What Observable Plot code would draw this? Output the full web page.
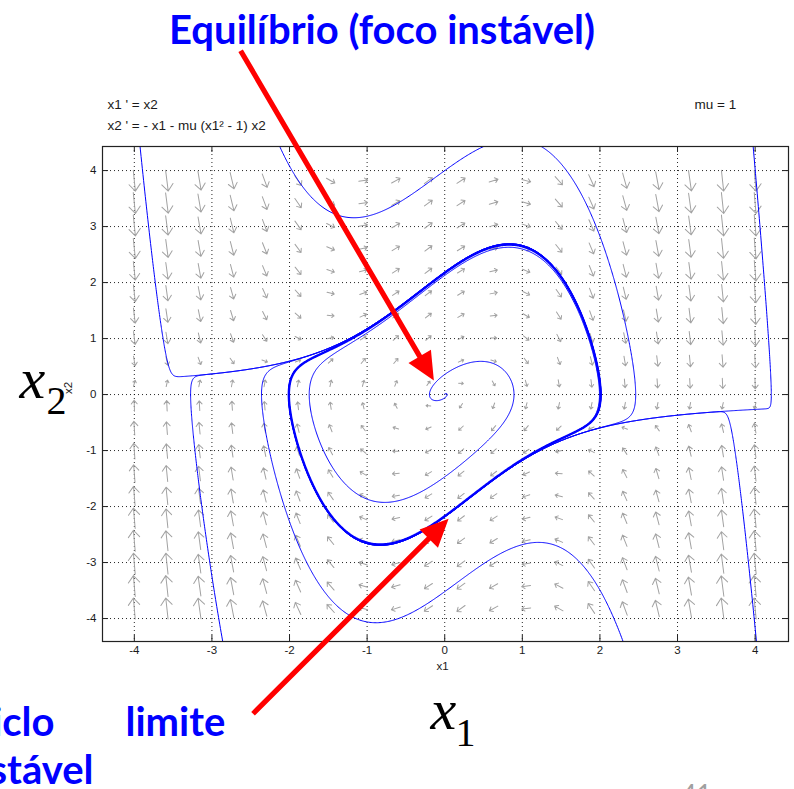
<!DOCTYPE html>
<html>
<head>
<meta charset="utf-8">
<script src="https://cdn.jsdelivr.net/npm/d3@7"></script>
<script src="https://cdn.jsdelivr.net/npm/@observablehq/plot@0.6"></script>
<style>
  html, body { margin: 0; padding: 0; background: #fff; }
  #chart svg { display: block; }
</style>
</head>
<body>
<div id="chart"></div>
<script>
// Van der Pol oscillator:  x1' = x2,  x2' = -x1 - mu (x1^2 - 1) x2
const MU = 1;

// axes
const xDomain = [-4.41, 4.43];
const yDomain = [-4.41, 4.43];
const xTicks = [-4, -3, -2, -1, 0, 1, 2, 3, 4];
const yTicks = [-4, -3, -2, -1, 0, 1, 2, 3, 4];

// lattice where the direction field is sampled
const fieldCols = [-4.00, -3.58, -3.16, -2.74, -2.32, -1.89, -1.47, -1.05, -0.63, -0.21,
                    0.21, 0.63, 1.05, 1.47, 1.89, 2.32, 2.74, 3.16, 3.58, 4.00];
const fieldRows = [-3.82, -3.42, -3.02, -2.61, -2.21, -1.81, -1.41, -1.01, -0.60, -0.20,
                    0.20, 0.60, 1.01, 1.41, 1.81, 2.21, 2.61, 3.02, 3.42, 3.82];

// initial states of the traced orbits (each is run forward and backward in time)
const orbitNames = ["upper left", "lower left", "lower", "upper", "upper right", "lower right", "spiral"];
const orbitX1 = [-3.73, -3.13, 1.205, -1.12, 4.12, 3.81, 0.89];
const orbitX2 = [ 2.00, -2.00, -2.64,  3.16, 2.00, -1.73, -0.07];
const cycleStart = [2.0086, 0];
const cyclePeriod = 6.6633;

// texts
const headerLines = ["x1 ' = x2", "x2 ' = - x1 - mu (x1² - 1) x2"];
const paramText = "mu = 1";
const titleText = "Equilíbrio (foco instável)";
const cycleWords = ["Ciclo", "limite", "estável"];

// annotation arrows: tail -> tip, in (x1, x2) units
const arrowNames = ["focus", "cycle"];
const arrowTail = [[-2.63, 6.14], [-2.47, -5.70]];
const arrowTip  = [[-0.14, 0.25], [ 0.05, -2.22]];

// ---------------- layout ----------------
const W = 794, H = 789;
const ML = 102, MR = 6, MT = 146, MB = 148;
const kx = (W - ML - MR) / (xDomain[1] - xDomain[0]);   // px per unit
const ky = (H - MT - MB) / (yDomain[1] - yDomain[0]);
const frameW = W - ML - MR, frameH = H - MT - MB;

// ---------------- dynamics ----------------
function deriv(a, b) { return [b, -a - MU * (a * a - 1) * b]; }
function rk4([a, b], h) {
  const [k1a, k1b] = deriv(a, b);
  const [k2a, k2b] = deriv(a + h * k1a / 2, b + h * k1b / 2);
  const [k3a, k3b] = deriv(a + h * k2a / 2, b + h * k2b / 2);
  const [k4a, k4b] = deriv(a + h * k3a, b + h * k3b);
  return [a + h * (k1a + 2 * k2a + 2 * k3a + k4a) / 6,
          b + h * (k1b + 2 * k2b + 2 * k3b + k4b) / 6];
}
function trace(p0, dir, tMax) {
  const dt = 0.002;
  const pts = [p0];
  let p = p0, last = p0;
  for (let t = 0; t < tMax; t += dt) {
    p = rk4(p, dir * dt);
    if (!(Math.abs(p[0]) < 12 && Math.abs(p[1]) < 40)) { pts.push(p); break; }
    if (Math.hypot((p[0] - last[0]) * kx, (p[1] - last[1]) * ky) > 0.8) { pts.push(p); last = p; }
  }
  return pts;
}

const orbitPts = [];
orbitNames.forEach((name, i) => {
  const s = [orbitX1[i], orbitX2[i]];
  const back = trace(s, -1, 10).reverse();
  const fwd = trace(s, 1, 12).slice(1);
  for (const [a, b] of back.concat(fwd)) orbitPts.push({id: name, x1: a, x2: b});
});
const cyclePts = trace(cycleStart, 1, cyclePeriod + 0.05).map(([a, b]) => ({x1: a, x2: b}));

// direction field arrows
const field = [];
for (const a of fieldCols) for (const b of fieldRows) {
  const [u, v] = deriv(a, b);
  const m = Math.hypot(u, v);
  field.push({
    x1: a, x2: b,
    angle: Math.atan2(u * kx, v * ky) * 180 / Math.PI,
    len: Math.min(21, 3.5 + 2.8 * Math.sqrt(m))
  });
}
const fieldArrow = {
  draw(ctx, l) {
    const h = l * 0.33, w = l * 0.27;
    ctx.moveTo(0, 0); ctx.lineTo(0, -l);
    ctx.moveTo(-w, -l + h); ctx.lineTo(0, -l); ctx.lineTo(w, -l + h);
  }
};

// solid red pointer with a filled head
const pointer = {
  draw(ctx, l) {
    const hl = 28, hw = 13, sw = 2.6, b = -(l - hl);
    ctx.moveTo(-sw, 0); ctx.lineTo(sw, 0); ctx.lineTo(sw, b); ctx.lineTo(hw, b);
    ctx.lineTo(0, -l); ctx.lineTo(-hw, b); ctx.lineTo(-sw, b); ctx.closePath();
  }
};
const pointers = arrowNames.map((n, i) => ({
  name: n, x1: arrowTail[i][0], x2: arrowTail[i][1],
  len: Math.hypot((arrowTip[i][0] - arrowTail[i][0]) * kx, (arrowTip[i][1] - arrowTail[i][1]) * ky),
  angle: Math.atan2((arrowTip[i][0] - arrowTail[i][0]) * kx, (arrowTip[i][1] - arrowTail[i][1]) * ky) * 180 / Math.PI
}));

// text placed in page pixels, relative to the frame's top-left corner
function note(str, px, py, opts) {
  return Plot.text([str], {text: d => d, frameAnchor: "top-left", dx: px - ML, dy: py - MT,
                           lineAnchor: "bottom", ...opts});
}
const blueBold = {fontFamily: "Lato, 'Open Sans', sans-serif", fontWeight: "bold", fontSize: 40, fill: "#0000ff"};
const small = {fontFamily: "'Liberation Sans', Arial, sans-serif", fontSize: 13.5, fill: "#1a1a1a"};
const serifX = {fontFamily: "'Liberation Serif', 'Times New Roman', serif", fill: "#000"};

const chart = Plot.plot({
  width: W, height: H,
  marginLeft: ML, marginRight: MR, marginTop: MT, marginBottom: MB,
  x: {domain: xDomain, label: null},
  y: {domain: yDomain, label: null},
  length: {type: "identity"},
  style: {fontFamily: "'Liberation Sans', Arial, sans-serif", fontSize: "11.5px", background: "#fff", color: "#1a1a1a"},
  marks: [
    Plot.gridX(xTicks, {stroke: "#000", strokeOpacity: 0.85, strokeDasharray: "1,3"}),
    Plot.gridY(yTicks, {stroke: "#000", strokeOpacity: 0.85, strokeDasharray: "1,3"}),
    Plot.vector(field, {x: "x1", y: "x2", rotate: "angle", length: "len", anchor: "middle",
                        shape: fieldArrow, stroke: "#a2a2a2", strokeWidth: 1}),
    Plot.line(orbitPts, {x: "x1", y: "x2", z: "id", stroke: "#0000ff", strokeWidth: 1, clip: true}),
    Plot.line(cyclePts, {x: "x1", y: "x2", stroke: "#0000ff", strokeWidth: 2.4, clip: true}),
    // inward ticks on all four sides
    Plot.tickX(xTicks, {x: d => d, insetTop: frameH - 6, stroke: "#222"}),
    Plot.tickX(xTicks, {x: d => d, insetBottom: frameH - 6, stroke: "#222"}),
    Plot.tickY(yTicks, {y: d => d, insetRight: frameW - 6, stroke: "#222"}),
    Plot.tickY(yTicks, {y: d => d, insetLeft: frameW - 6, stroke: "#222"}),
    Plot.frame({stroke: "#222", strokeWidth: 1.2}),
    Plot.axisX(xTicks, {anchor: "bottom", tickSize: 0, tickPadding: 4, tickFormat: d => String(d), label: null, fontSize: 11.5}),
    Plot.axisY(yTicks, {anchor: "left", tickSize: 0, tickPadding: 6, tickFormat: d => String(d), label: null, fontSize: 11.5}),
    Plot.text(["x1"], {text: d => d, frameAnchor: "bottom", dx: -3, dy: 25, lineAnchor: "middle", ...small, fontSize: 11.5}),
    Plot.text(["x2"], {text: d => d, frameAnchor: "left", dx: -34, rotate: -90, lineAnchor: "middle", ...small, fontSize: 11.5}),
    // header of the system
    note(headerLines[0], 107, 108, {...small}),
    note(headerLines[1], 107, 129, {...small}),
    note(paramText, 694, 108, {...small}),
    // big axis symbols
    note("x", 430, 728, {...serifX, fontSize: 58, fontStyle: "italic"}),
    note("1", 455, 745, {...serifX, fontSize: 40}),
    note("x", 19, 397, {...serifX, fontSize: 58, fontStyle: "italic"}),
    note("2", 46, 413, {...serifX, fontSize: 40}),
    // annotations
    note(titleText, 381.5, 43, {...blueBold, textAnchor: "middle"}),
    note(cycleWords[0], 54, 735, {...blueBold, textAnchor: "end"}),
    note(cycleWords[1], 125, 735, {...blueBold, textAnchor: "start"}),
    note(cycleWords[2], 93, 783, {...blueBold, textAnchor: "end"}),
    note("41", 681, 803, {fontFamily: "Lato, sans-serif", fontSize: 26, fill: "#a0a0a0", textAnchor: "start"}),
    Plot.vector(pointers, {x: "x1", y: "x2", rotate: "angle", length: "len", anchor: "start",
                           shape: pointer, fill: "#ff0000", stroke: "none"})
  ]
});
document.getElementById("chart").append(chart);
</script>
</body>
</html>
